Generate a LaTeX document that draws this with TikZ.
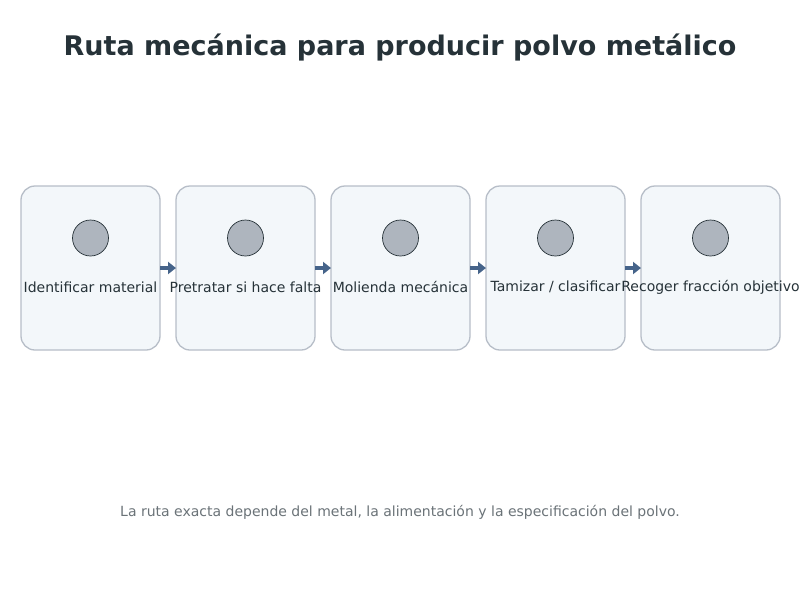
\documentclass[tikz,border=0pt]{standalone}
\usepackage{fontspec}
\setmainfont{DejaVu Sans}
\usetikzlibrary{positioning,arrows.meta}
\definecolor{titleInk}{HTML}{263238}
\definecolor{stepFill}{HTML}{F3F7FA}
\definecolor{stepLine}{HTML}{B7BEC8}
\definecolor{dotFill}{HTML}{AEB5BE}
\definecolor{flowBlue}{HTML}{46648A}
\definecolor{noteGray}{HTML}{6B7378}

\tikzset{
  stepbox/.style = {draw = stepLine, line width = 1.3pt, fill = stepFill, outer sep = 0pt,
    rounded corners = 14pt, minimum width = 139pt, minimum height = 164pt, inner sep = 0pt},
  stepdot/.style = {circle, draw = titleInk, line width = .7pt, fill = dotFill,
    minimum size = 36pt, inner sep = 0pt},
  steptext/.style = {font = \fontsize{14}{16}\selectfont, text = titleInk, inner sep = 0pt},
  flow/.style = {-{Triangle[length = 8pt, width = 12pt]}, line width = 3.5pt, flowBlue}
}

\begin{document}
\begin{tikzpicture}[x = 1pt, y = -1pt]
\useasboundingbox[fill = white] (0, 0) rectangle (800, 600);

\node[font = \fontsize{27}{31}\selectfont\bfseries, text = titleInk] (title) at (400, 48) {Ruta mecánica para producir polvo metálico};

% the five steps
\node[stepbox] (identify) at (90.5, 268) {};
\node[stepbox, right = 16pt of identify] (pretreat) {};
\node[stepbox, right = 16pt of pretreat] (mill) {};
\node[stepbox, right = 16pt of mill] (sieve) {};
\node[stepbox, right = 16pt of sieve] (collect) {};

\foreach \s/\t in {identify/Identificar material, pretreat/Pretratar si hace falta,
    mill/Molienda mecánica, sieve/{Tamizar / clasificar}, collect/Recoger fracción objetivo} {
  \node[stepdot] (\s-dot) at ([yshift = -52pt] \s.north) {};
  \node[steptext] (\s-label) at ([yshift = -101pt] \s.north) {\t};
}

\draw[flow] (identify) -- (pretreat);
\draw[flow] (pretreat) -- (mill);
\draw[flow] (mill) -- (sieve);
\draw[flow] (sieve) -- (collect);

\node[font = \fontsize{14}{16}\selectfont, text = noteGray] (note) at (400, 512) {La ruta exacta depende del metal, la alimentación y la especificación del polvo.};
\end{tikzpicture}
\end{document}
